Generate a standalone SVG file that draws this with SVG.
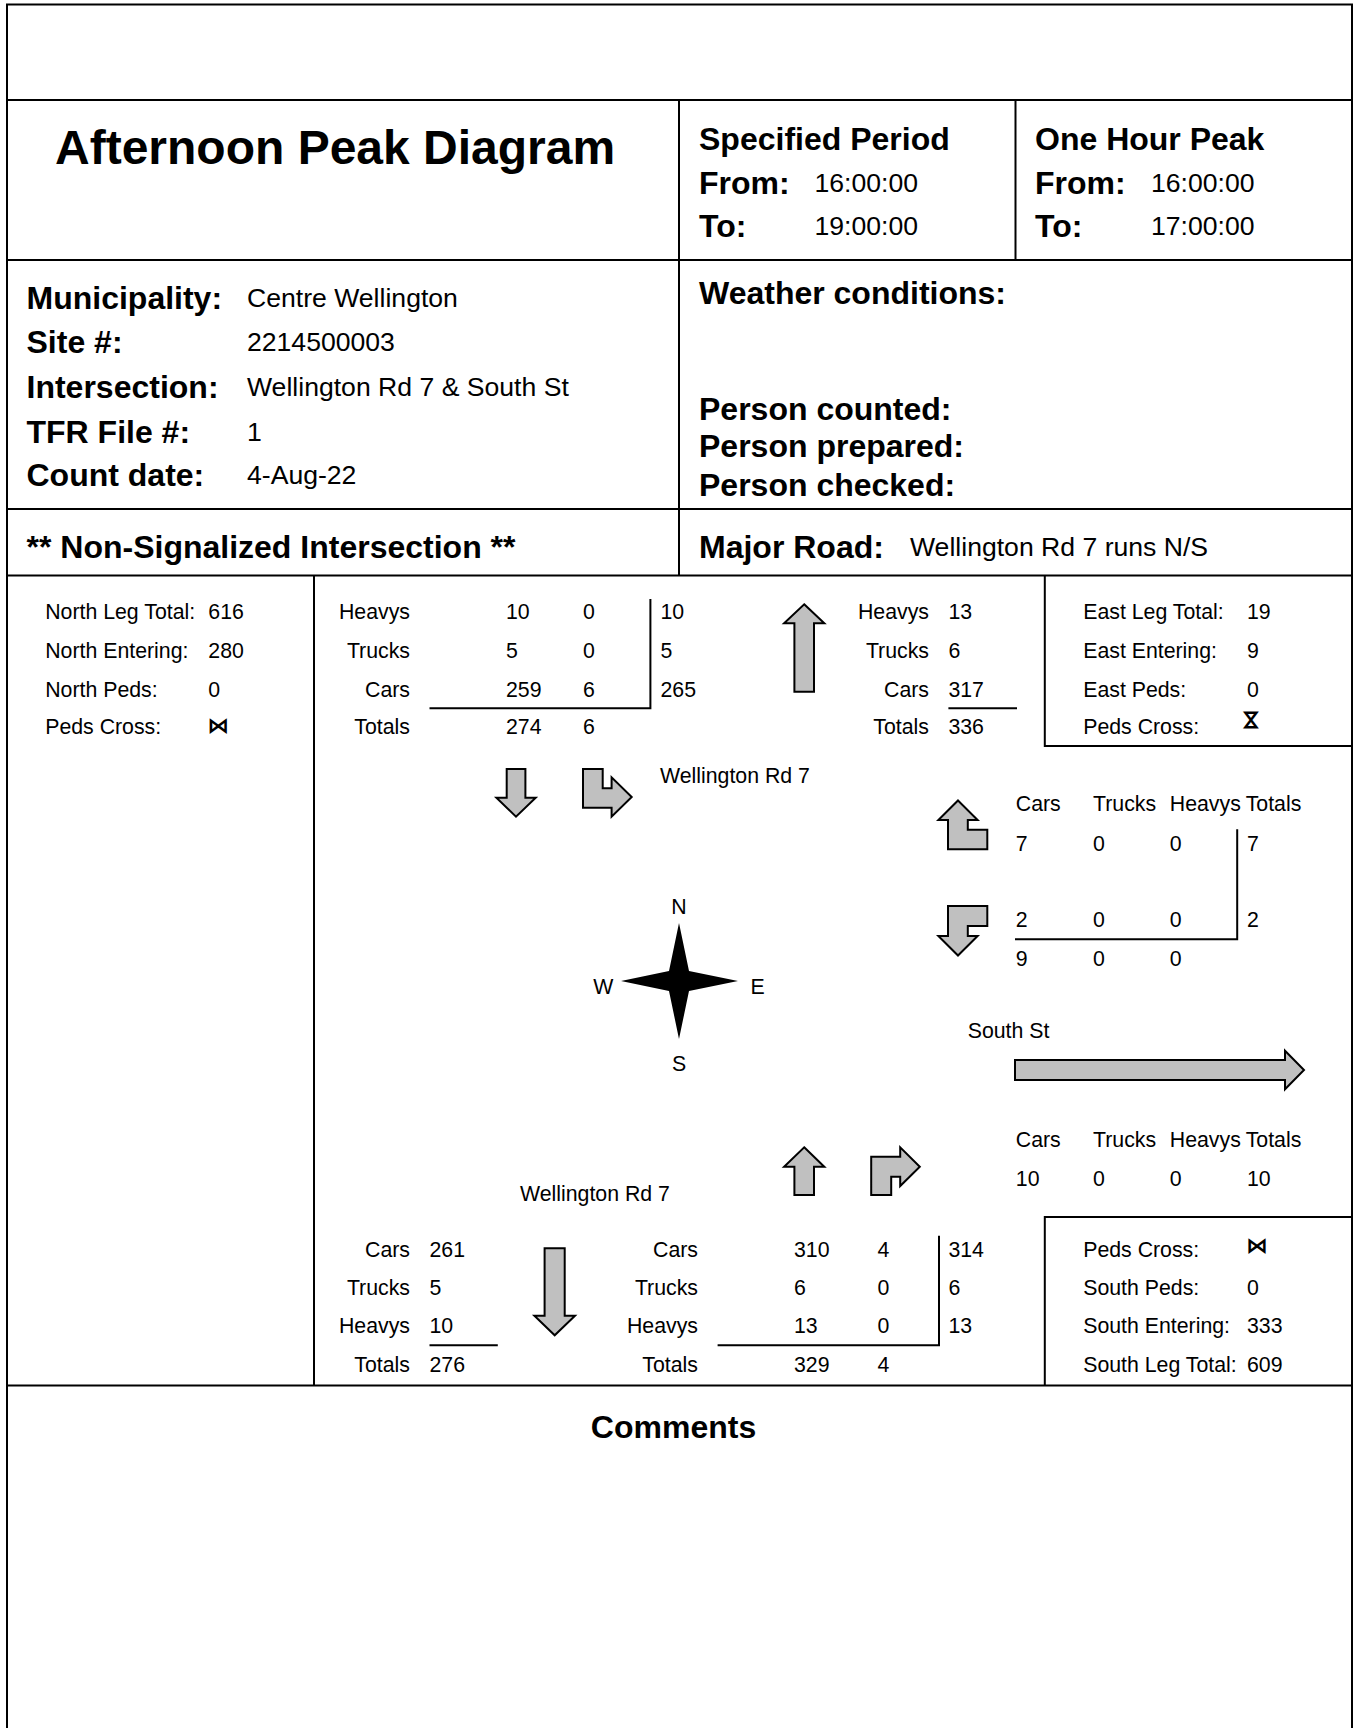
<svg xmlns="http://www.w3.org/2000/svg" width="1359" height="1728" viewBox="0 0 1359 1728">
<style>
text{font-family:"Liberation Sans",Arial,sans-serif;fill:#000}
.t48{font-size:48px;font-weight:bold}
.b32{font-size:32px;font-weight:bold}
.v{font-size:26.6px}
.s{font-size:21.3px}
.e{text-anchor:end}
.sym{font-family:"DejaVu Sans",sans-serif;font-size:22px;font-weight:bold;text-anchor:middle;dominant-baseline:central}
.ln{stroke:#000;stroke-width:2;fill:none}
.arr{fill:#c0c0c0;stroke:#000;stroke-width:2;stroke-linejoin:miter}
</style>
<rect width="1359" height="1728" fill="#fff"/>
<g id="frame" class="ln">
<path d="M7,1728 V4.5 H1352 V1728"/>
<path d="M7,100 H1352 M7,260 H1352 M7,509 H1352 M7,575.5 H1352 M7,1385.5 H1352"/>
<path d="M679,100 V575.5 M1015.5,100 V260 M314,575.5 V1385.5"/>
<path d="M1044.8,575.5 V746 H1352 M1044.8,1385.5 V1217 H1352"/>
</g>
<g id="title"><text class="t48" x="55" y="164">Afternoon Peak Diagram</text></g>
<g id="specified-period">
<text class="b32" x="699" y="150">Specified Period</text>
<text class="b32" x="699" y="193.5">From:</text><text class="v" x="814.5" y="191.5">16:00:00</text>
<text class="b32" x="699" y="237">To:</text><text class="v" x="814.5" y="235">19:00:00</text>
</g>
<g id="one-hour-peak">
<text class="b32" x="1035" y="150">One Hour Peak</text>
<text class="b32" x="1035" y="193.5">From:</text><text class="v" x="1151" y="191.5">16:00:00</text>
<text class="b32" x="1035" y="237">To:</text><text class="v" x="1151" y="235">17:00:00</text>
</g>
<g id="site-info">
<text class="b32" x="26.5" y="309">Municipality:</text><text class="v" x="247" y="307">Centre Wellington</text>
<text class="b32" x="26.5" y="353">Site #:</text><text class="v" x="247" y="351">2214500003</text>
<text class="b32" x="26.5" y="398">Intersection:</text><text class="v" x="247" y="396">Wellington Rd 7 &amp; South St</text>
<text class="b32" x="26.5" y="442.5">TFR File #:</text><text class="v" x="247" y="440.5">1</text>
<text class="b32" x="26.5" y="486">Count date:</text><text class="v" x="247" y="484">4-Aug-22</text>
</g>
<g id="conditions">
<text class="b32" x="699" y="304">Weather conditions:</text>
<text class="b32" x="699" y="420">Person counted:</text>
<text class="b32" x="699" y="457">Person prepared:</text>
<text class="b32" x="699" y="496">Person checked:</text>
</g>
<g id="intersection-type"><text class="b32" x="26.5" y="557.5">** Non-Signalized Intersection **</text></g>
<g id="major-road"><text class="b32" x="699" y="557.5">Major Road:</text><text class="v" x="910" y="555.5">Wellington Rd 7 runs N/S</text></g>

<g id="north-leg">
<text class="s" x="45.2" y="619.3">North Leg Total:</text><text class="s" x="208.3" y="619.3">616</text>
<text class="s" x="45.2" y="657.9">North Entering:</text><text class="s" x="208.3" y="657.9">280</text>
<text class="s" x="45.2" y="696.5">North Peds:</text><text class="s" x="208.3" y="696.5">0</text>
<text class="s" x="45.2" y="734">Peds Cross:</text><text class="sym" x="218.3" y="725.5">⋈</text>
</g>
<g id="north-table">
<text class="s e" x="410" y="619.3">Heavys</text><text class="s" x="506" y="619.3">10</text><text class="s" x="583" y="619.3">0</text><text class="s" x="660.5" y="619.3">10</text>
<text class="s e" x="410" y="657.9">Trucks</text><text class="s" x="506" y="657.9">5</text><text class="s" x="583" y="657.9">0</text><text class="s" x="660.5" y="657.9">5</text>
<text class="s e" x="410" y="696.5">Cars</text><text class="s" x="506" y="696.5">259</text><text class="s" x="583" y="696.5">6</text><text class="s" x="660.5" y="696.5">265</text>
<text class="s e" x="410" y="734">Totals</text><text class="s" x="506" y="734">274</text><text class="s" x="583" y="734">6</text>
<path class="ln" d="M650.4,599 V708.3 H429.5"/>
<text class="s" x="660" y="782.6">Wellington Rd 7</text>
</g>
<g id="north-exit-table">
<text class="s e" x="929" y="619.3">Heavys</text><text class="s" x="948.4" y="619.3">13</text>
<text class="s e" x="929" y="657.9">Trucks</text><text class="s" x="948.4" y="657.9">6</text>
<text class="s e" x="929" y="696.5">Cars</text><text class="s" x="948.4" y="696.5">317</text>
<text class="s e" x="929" y="734">Totals</text><text class="s" x="948.4" y="734">336</text>
<path class="ln" d="M948.4,708.3 H1017"/>
</g>
<g id="east-leg">
<text class="s" x="1083.2" y="619.3">East Leg Total:</text><text class="s" x="1247" y="619.3">19</text>
<text class="s" x="1083.2" y="657.9">East Entering:</text><text class="s" x="1247" y="657.9">9</text>
<text class="s" x="1083.2" y="696.5">East Peds:</text><text class="s" x="1247" y="696.5">0</text>
<text class="s" x="1083.2" y="734">Peds Cross:</text><text class="sym" transform="translate(1251.5,720) rotate(90)" x="0" y="0">⋈</text>
</g>
<g id="east-table">
<text class="s" x="1015.8" y="811.1">Cars</text><text class="s" x="1093" y="811.1">Trucks</text><text class="s" x="1169.8" y="811.1">Heavys</text><text class="s" x="1245.7" y="811.1">Totals</text>
<text class="s" x="1015.8" y="850.8">7</text><text class="s" x="1093" y="850.8">0</text><text class="s" x="1169.8" y="850.8">0</text><text class="s" x="1247" y="850.8">7</text>
<text class="s" x="1015.8" y="926.9">2</text><text class="s" x="1093" y="926.9">0</text><text class="s" x="1169.8" y="926.9">0</text><text class="s" x="1247" y="926.9">2</text>
<text class="s" x="1015.8" y="965.8">9</text><text class="s" x="1093" y="965.8">0</text><text class="s" x="1169.8" y="965.8">0</text>
<path class="ln" d="M1237.2,829.3 V939.3 H1015"/>
</g>
<g id="compass">
<polygon points="679,923 689,971 738,981 689,991 679,1039 669,991 621,981 669,971" fill="#000"/>
<text class="s" x="679" y="914.3" text-anchor="middle">N</text>
<text class="s" x="679" y="1071" text-anchor="middle">S</text>
<text class="s" x="603.3" y="994.3" text-anchor="middle">W</text>
<text class="s" x="757.7" y="994.3" text-anchor="middle">E</text>
</g>
<g id="west-road"><text class="s" x="967.7" y="1038.2">South St</text></g>
<g id="southeast-table">
<text class="s" x="1015.8" y="1147.3">Cars</text><text class="s" x="1093" y="1147.3">Trucks</text><text class="s" x="1169.8" y="1147.3">Heavys</text><text class="s" x="1245.7" y="1147.3">Totals</text>
<text class="s" x="1015.8" y="1185.9">10</text><text class="s" x="1093" y="1185.9">0</text><text class="s" x="1169.8" y="1185.9">0</text><text class="s" x="1247" y="1185.9">10</text>
</g>
<g id="south-exit-table">
<text class="s" x="520" y="1201.3">Wellington Rd 7</text>
<text class="s e" x="410" y="1256.6">Cars</text><text class="s" x="429.5" y="1256.6">261</text>
<text class="s e" x="410" y="1294.9">Trucks</text><text class="s" x="429.5" y="1294.9">5</text>
<text class="s e" x="410" y="1333.3">Heavys</text><text class="s" x="429.5" y="1333.3">10</text>
<text class="s e" x="410" y="1371.6">Totals</text><text class="s" x="429.5" y="1371.6">276</text>
<path class="ln" d="M429.5,1345.3 H497.8"/>
</g>
<g id="south-table">
<text class="s e" x="698" y="1256.6">Cars</text><text class="s" x="794" y="1256.6">310</text><text class="s" x="877.4" y="1256.6">4</text><text class="s" x="948.4" y="1256.6">314</text>
<text class="s e" x="698" y="1294.9">Trucks</text><text class="s" x="794" y="1294.9">6</text><text class="s" x="877.4" y="1294.9">0</text><text class="s" x="948.4" y="1294.9">6</text>
<text class="s e" x="698" y="1333.3">Heavys</text><text class="s" x="794" y="1333.3">13</text><text class="s" x="877.4" y="1333.3">0</text><text class="s" x="948.4" y="1333.3">13</text>
<text class="s e" x="698" y="1371.6">Totals</text><text class="s" x="794" y="1371.6">329</text><text class="s" x="877.4" y="1371.6">4</text>
<path class="ln" d="M939,1235.7 V1345.3 H717.6"/>
</g>
<g id="south-leg">
<text class="s" x="1083.2" y="1256.6">Peds Cross:</text><text class="sym" x="1257" y="1245">⋈</text>
<text class="s" x="1083.2" y="1294.9">South Peds:</text><text class="s" x="1247" y="1294.9">0</text>
<text class="s" x="1083.2" y="1333.3">South Entering:</text><text class="s" x="1247" y="1333.3">333</text>
<text class="s" x="1083.2" y="1371.6">South Leg Total:</text><text class="s" x="1247" y="1371.6">609</text>
</g>
<g id="comments"><text class="b32" x="673.5" y="1437.5" text-anchor="middle">Comments</text></g>
<g id="connectors">
<polygon class="arr" points="506.7,769 525.4,769 525.4,797.7 535.7,797.7 516,816.7 496.4,797.7 506.7,797.7"/>
<polygon class="arr" points="583,769 602.7,769 602.7,788.3 611.6,788.3 611.6,777.3 631.7,797 611.6,816.7 611.6,807.7 583,807.7"/>
<polygon class="arr" points="804.2,604.3 824.3,623.3 814,623.3 814,691.7 794.4,691.7 794.4,623.3 784.1,623.3"/>
<polygon class="arr" points="958,800.5 977.6,820 967.8,820 967.8,829.8 987.3,829.8 987.3,849.3 948,849.3 948,820 938.4,820"/>
<polygon class="arr" points="948,906 987.3,906 987.3,926 967.8,926 967.8,936 977.6,936 958,955.5 938.4,936 948,936"/>
<polygon class="arr" points="1015,1060 1285,1060 1285,1050.7 1304,1070 1285,1089.3 1285,1080 1015,1080"/>
<polygon class="arr" points="804.2,1147.3 824.3,1166.7 814,1166.7 814,1195 794.4,1195 794.4,1166.7 784.1,1166.7"/>
<polygon class="arr" points="871.2,1195 871.2,1156.7 900.2,1156.7 900.2,1147.3 919.8,1166.7 900.2,1186 900.2,1176.7 891.2,1176.7 891.2,1195"/>
<polygon class="arr" points="544.6,1248.3 564.7,1248.3 564.7,1315.7 575,1315.7 554.7,1335.3 534.4,1315.7 544.6,1315.7"/>
</g>
</svg>
